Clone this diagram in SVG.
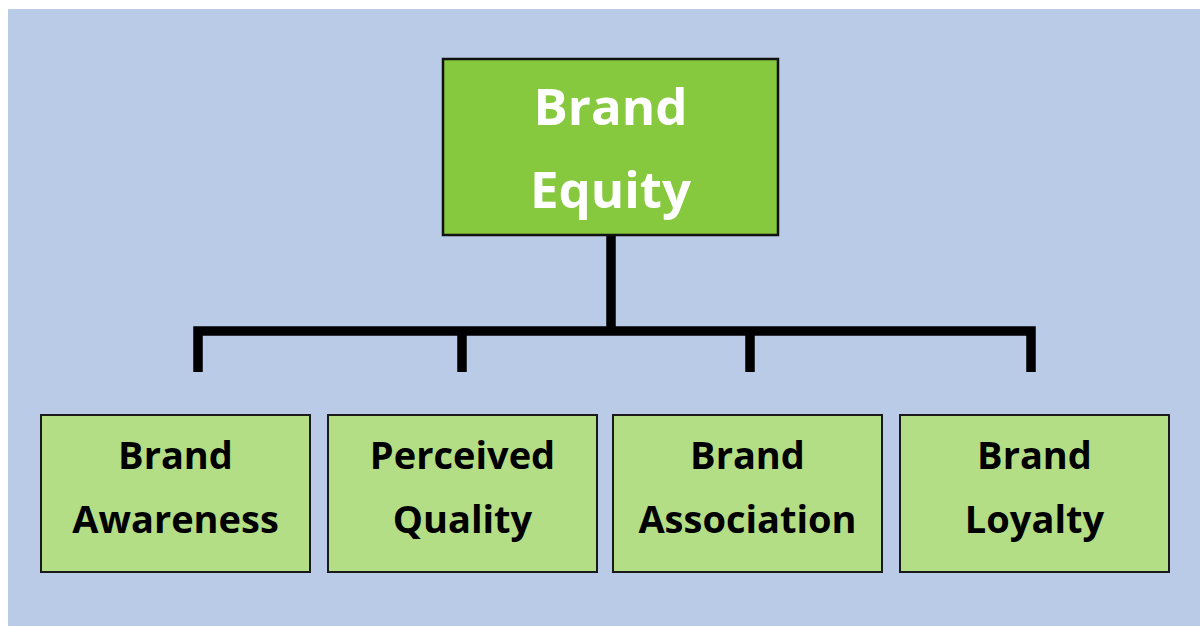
<svg xmlns="http://www.w3.org/2000/svg" width="1200" height="626" viewBox="0 0 1200 626">
<style>
.top{fill:#86c83e;stroke:#111;stroke-width:2.5}
.sub{fill:#b4de86;stroke:#1a1a1a;stroke-width:2}
.tt{font-family:"Open Sans","Liberation Sans",sans-serif;font-weight:bold;font-size:51px;fill:#fff;text-anchor:middle}
.st{font-family:"Open Sans","Liberation Sans",sans-serif;font-weight:bold;font-size:38px;fill:#000;text-anchor:middle}
.con{fill:none;stroke:#000;stroke-width:9.5;stroke-linejoin:miter;stroke-linecap:butt}
</style>
<rect x="0" y="0" width="1200" height="626" fill="#fff"/>
<rect x="8" y="9" width="1192" height="617" fill="#b9cbe6"/>
<g id="connectors">
<path class="con" d="M611,236 V331"/>
<path class="con" d="M198,372 V331 H1031 V372"/>
<path class="con" d="M462,331 V372"/>
<path class="con" d="M750,331 V372"/>
</g>
<g id="brand-equity">
<rect class="top" x="443" y="59" width="335" height="176"/>
<text class="tt" x="610.5" y="125">Brand</text>
<text class="tt" x="610.5" y="208">Equity</text>
</g>
<g id="brand-awareness">
<rect class="sub" x="41" y="415" width="269" height="157"/>
<text class="st" x="175.5" y="469">Brand</text>
<text class="st" x="175.5" y="533">Awareness</text>
</g>
<g id="perceived-quality">
<rect class="sub" x="328" y="415" width="269" height="157"/>
<text class="st" x="462.5" y="469">Perceived</text>
<text class="st" x="462.5" y="533">Quality</text>
</g>
<g id="brand-association">
<rect class="sub" x="613" y="415" width="269" height="157"/>
<text class="st" x="747.5" y="469">Brand</text>
<text class="st" x="747.5" y="533">Association</text>
</g>
<g id="brand-loyalty">
<rect class="sub" x="900" y="415" width="269" height="157"/>
<text class="st" x="1034.5" y="469">Brand</text>
<text class="st" x="1034.5" y="533">Loyalty</text>
</g>
</svg>
